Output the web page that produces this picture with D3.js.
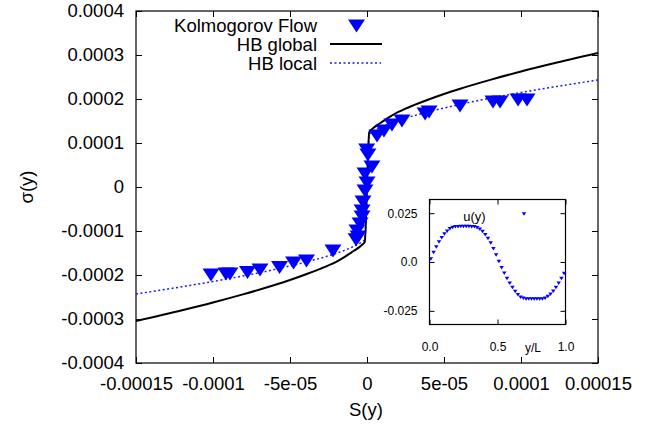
<!DOCTYPE html>
<html>
<head>
<meta charset="utf-8">
<script src="https://cdn.jsdelivr.net/npm/d3@7"></script>
<style>
  html, body { margin: 0; padding: 0; background: #fff; }
  svg text { font-family: "Liberation Sans", Arial, Helvetica, sans-serif; fill: #000; }
</style>
</head>
<body>
<svg id="chart" width="651" height="425"></svg>
<script>
// ---------- data ----------
const xTicks = [-0.00015, -0.0001, -0.00005, 0, 0.00005, 0.0001, 0.00015];
const xTickLabels = ["-0.00015", "-0.0001", "-5e-05", "0", "5e-05", "0.0001", "0.00015"];
const yTicks = [-0.0004, -0.0003, -0.0002, -0.0001, 0, 0.0001, 0.0002, 0.0003, 0.0004];
const yTickLabels = ["-0.0004", "-0.0003", "-0.0002", "-0.0001", "0", "0.0001", "0.0002", "0.0003", "0.0004"];

// Kolmogorov flow points
const flowS = [-1.013e-4, -9.16e-5, -8.9e-5, -7.76e-5, -6.95e-5, -5.68e-5, -4.77e-5, -3.93e-5, -2.21e-5, -7.1e-6,
  -5.8e-6, -6.5e-6, -4.5e-6, -3.2e-6, -3.2e-6, -2.6e-6, -1.3e-6, 0, -1.3e-6, 3.2e-6, 6e-7, -2e-7,
  6.5e-6, 1.1e-5, 1.62e-5, 2.27e-5, 3.77e-5, 4.03e-5, 6.04e-5, 8.18e-5, 8.64e-5, 9.81e-5, 1.039e-4];
const flowSigma = [-2.0e-4, -1.977e-4, -1.98e-4, -1.943e-4, -1.886e-4, -1.83e-4, -1.727e-4, -1.68e-4, -1.455e-4, -1.2e-4,
  -1.136e-4, -1.0e-4, -0.841e-4, -0.682e-4, -0.545e-4, -0.341e-4, -0.091e-4, 0.091e-4, 0.295e-4, 0.455e-4, 0.727e-4, 0.841e-4,
  1.159e-4, 1.273e-4, 1.409e-4, 1.5e-4, 1.659e-4, 1.705e-4, 1.841e-4, 1.932e-4, 1.932e-4, 1.977e-4, 1.977e-4];

// HB global fit curve
const hbGlobalS = [-1.5e-4, -1.2e-4, -1.0e-4, -8e-5, -6e-5, -5e-5, -4e-5, -3e-5, -2.5e-5, -2e-5, -1.5e-5, -1e-5, -7e-6, -5e-6, -3e-6, -1.5e-6,
  1.5e-6, 3e-6, 5e-6, 7e-6, 1e-5, 1.5e-5, 2e-5, 2.5e-5, 3e-5, 4e-5, 5e-5, 6e-5, 8e-5, 1.0e-4, 1.2e-4, 1.5e-4];
const hbGlobalSigma = [-3.045e-4, -2.80e-4, -2.625e-4, -2.435e-4, -2.228e-4, -2.115e-4, -1.99e-4, -1.855e-4, -1.782e-4, -1.70e-4, -1.598e-4, -1.484e-4, -1.416e-4, -1.366e-4, -1.307e-4, -1.254e-4,
  1.254e-4, 1.307e-4, 1.366e-4, 1.416e-4, 1.484e-4, 1.598e-4, 1.70e-4, 1.782e-4, 1.855e-4, 1.99e-4, 2.115e-4, 2.228e-4, 2.435e-4, 2.625e-4, 2.80e-4, 3.045e-4];

// HB local fit curve
const hbLocalS = [-1.5e-4, -1.2e-4, -1.0e-4, -8e-5, -6e-5, -5e-5, -4e-5, -3e-5, -2.5e-5, -2e-5, -1.5e-5, -1e-5, -7e-6, -5e-6, -3e-6, -1.5e-6,
  1.5e-6, 3e-6, 5e-6, 7e-6, 1e-5, 1.5e-5, 2e-5, 2.5e-5, 3e-5, 4e-5, 5e-5, 6e-5, 8e-5, 1.0e-4, 1.2e-4, 1.5e-4];
const hbLocalSigma = [-2.432e-4, -2.266e-4, -2.148e-4, -2.018e-4, -1.875e-4, -1.795e-4, -1.709e-4, -1.616e-4, -1.564e-4, -1.507e-4, -1.445e-4, -1.373e-4, -1.323e-4, -1.284e-4, -1.239e-4, -1.198e-4,
  1.198e-4, 1.239e-4, 1.284e-4, 1.323e-4, 1.373e-4, 1.445e-4, 1.507e-4, 1.564e-4, 1.616e-4, 1.709e-4, 1.795e-4, 1.875e-4, 2.018e-4, 2.148e-4, 2.266e-4, 2.432e-4];

// inset: velocity profile u(y), 50 points
const insetY = d3.range(50).map(i => (i + 0.5) / 50);
const insetU = [0.0015, 0.0049, 0.0077, 0.0102, 0.0124, 0.0143, 0.0158, 0.0170, 0.0177, 0.0180,
  0.0181, 0.0182, 0.0182, 0.0182, 0.0182, 0.0181, 0.0180, 0.0176, 0.0168, 0.0156,
  0.0140, 0.0120, 0.0097, 0.0068, 0.0036, 0.0003, -0.0029, -0.0057, -0.0084, -0.0109,
  -0.0131, -0.0151, -0.0168, -0.0180, -0.0186, -0.0189, -0.0190, -0.0190, -0.0190, -0.0190,
  -0.0190, -0.0189, -0.0185, -0.0176, -0.0165, -0.0150, -0.0131, -0.0109, -0.0084, -0.0059];
const insetXTicks = [0, 0.5, 1.0];
const insetXTickLabels = ["0.0", "0.5", "1.0"];
const insetYTicks = [-0.025, 0, 0.025];
const insetYTickLabels = ["-0.025", "0.0", "0.025"];

// ---------- layout ----------
const svg = d3.select("#chart");
const L = 136, R = 598, T = 11, B = 363;
const FS = 18.5;
const x = d3.scaleLinear().domain([-0.00015, 0.00015]).range([L, R]);
const y = d3.scaleLinear().domain([-0.0004, 0.0004]).range([B, T]);

svg.append("defs").append("clipPath").attr("id", "clip")
  .append("rect").attr("x", L).attr("y", T).attr("width", R - L).attr("height", B - T);

// axes (ticks inward, mirrored)
function styleAxis(g) {
  g.select(".domain").remove();
  g.selectAll(".tick line").attr("stroke", "#000").attr("stroke-width", 1);
  g.selectAll(".tick text").style("font-size", FS + "px").attr("fill", "#000");
}
svg.append("g").attr("transform", `translate(0,${B})`)
  .call(d3.axisBottom(x).tickValues(xTicks).tickFormat((d, i) => xTickLabels[i]).tickSizeInner(-6).tickSizeOuter(0).tickPadding(14))
  .call(styleAxis);
svg.append("g").attr("transform", `translate(0,${T})`)
  .call(d3.axisTop(x).tickValues(xTicks).tickFormat("").tickSizeInner(-6).tickSizeOuter(0))
  .call(styleAxis);
svg.append("g").attr("transform", `translate(${L},0)`)
  .call(d3.axisLeft(y).tickValues(yTicks).tickFormat((d, i) => yTickLabels[i]).tickSizeInner(-6).tickSizeOuter(0).tickPadding(12))
  .call(styleAxis);
svg.append("g").attr("transform", `translate(${R},0)`)
  .call(d3.axisRight(y).tickValues(yTicks).tickFormat("").tickSizeInner(-6).tickSizeOuter(0))
  .call(styleAxis);

svg.append("rect").attr("x", L).attr("y", T).attr("width", R - L).attr("height", B - T)
  .attr("fill", "none").attr("stroke", "#000").attr("stroke-width", 1.2);

// axis titles
svg.append("text").attr("x", (L + R) / 2 - 1).attr("y", 416).attr("text-anchor", "middle")
  .style("font-size", FS + "px").text("S(y)");
svg.append("text").attr("transform", "translate(33,187) rotate(-90)").attr("text-anchor", "middle")
  .style("font-size", FS + "px").text("σ(y)");

// curves
const plot = svg.append("g").attr("clip-path", "url(#clip)");
const line = d3.line().x(d => x(d[0])).y(d => y(d[1])).curve(d3.curveMonotoneX);
plot.append("path").datum(hbLocalS.map((s, i) => [s, hbLocalSigma[i]]))
  .attr("d", line).attr("fill", "none").attr("stroke", "#1a1aff").attr("stroke-width", 1.5)
  .attr("stroke-dasharray", "2,2.5");
plot.append("path").datum(hbGlobalS.map((s, i) => [s, hbGlobalSigma[i]]))
  .attr("d", line).attr("fill", "none").attr("stroke", "#000").attr("stroke-width", 2);

// triangle-down marker
function tri(cx, cy, w, h) {
  return `M${cx - w / 2},${cy - h / 2}L${cx + w / 2},${cy - h / 2}L${cx},${cy + h / 2}Z`;
}
plot.selectAll("path.flow").data(flowS.map((s, i) => [s, flowSigma[i]])).enter()
  .append("path").attr("class", "flow")
  .attr("d", d => tri(x(d[0]), y(d[1]), 17, 13)).attr("fill", "#0000ff");

// legend
const lg = svg.append("g");
const legItems = ["Kolmogorov Flow", "HB global", "HB local"];
const legY = [25, 44, 63];
legItems.forEach((t, i) => {
  lg.append("text").attr("x", 317).attr("y", legY[i] + 6.5).attr("text-anchor", "end")
    .style("font-size", FS + "px").text(t);
});
lg.append("path").attr("d", tri(356.5, legY[0] + 1, 17, 13)).attr("fill", "#0000ff");
lg.append("line").attr("x1", 330).attr("x2", 382).attr("y1", legY[1]).attr("y2", legY[1])
  .attr("stroke", "#000").attr("stroke-width", 2);
lg.append("line").attr("x1", 330).attr("x2", 381).attr("y1", legY[2]).attr("y2", legY[2])
  .attr("stroke", "#1a1aff").attr("stroke-width", 1.5).attr("stroke-dasharray", "2,2.5");

// ---------- inset ----------
const iL = 429.5, iR = 565.5, iT = 199.5, iB = 324.5;
const ix = d3.scaleLinear().domain([0, 1]).range([iL, iR]);
const iy = d3.scaleLinear().domain([-0.032, 0.032]).range([iB, iT]);
const ins = svg.append("g");
ins.append("rect").attr("x", iL).attr("y", iT).attr("width", iR - iL).attr("height", iB - iT)
  .attr("fill", "#fff").attr("stroke", "none");
const IFS = 12;
function styleInset(g) {
  g.select(".domain").remove();
  g.selectAll(".tick line").attr("stroke", "#000").attr("stroke-width", 1);
  g.selectAll(".tick text").style("font-size", IFS + "px").attr("fill", "#000");
}
ins.append("g").attr("transform", `translate(0,${iB})`)
  .call(d3.axisBottom(ix).tickValues(insetXTicks).tickFormat((d, i) => insetXTickLabels[i]).tickSizeInner(-5).tickSizeOuter(0).tickPadding(18))
  .call(styleInset);
ins.append("g").attr("transform", `translate(0,${iT})`)
  .call(d3.axisTop(ix).tickValues(insetXTicks).tickFormat("").tickSizeInner(-5).tickSizeOuter(0))
  .call(styleInset);
ins.append("g").attr("transform", `translate(${iL},0)`)
  .call(d3.axisLeft(iy).tickValues(insetYTicks).tickFormat((d, i) => insetYTickLabels[i]).tickSizeInner(-5).tickSizeOuter(0).tickPadding(12))
  .call(styleInset);
ins.append("g").attr("transform", `translate(${iR},0)`)
  .call(d3.axisRight(iy).tickValues(insetYTicks).tickFormat("").tickSizeInner(-5).tickSizeOuter(0))
  .call(styleInset);
ins.append("rect").attr("x", iL).attr("y", iT).attr("width", iR - iL).attr("height", iB - iT)
  .attr("fill", "none").attr("stroke", "#000").attr("stroke-width", 1.2);
ins.append("text").attr("x", 533).attr("y", 352).attr("text-anchor", "middle")
  .style("font-size", IFS + "px").text("y/L");
ins.selectAll("path.u").data(insetY.map((v, i) => [v, insetU[i]])).enter()
  .append("path").attr("class", "u")
  .attr("d", d => tri(ix(d[0]), iy(d[1]), 4.5, 3.5)).attr("fill", "#0000ff");
ins.append("text").attr("x", 474.5).attr("y", 220.5).attr("text-anchor", "middle")
  .style("font-size", "13px").text("u(y)");
ins.append("path").attr("d", tri(524, 214, 4.5, 3.5)).attr("fill", "#0000ff");
</script>
</body>
</html>
